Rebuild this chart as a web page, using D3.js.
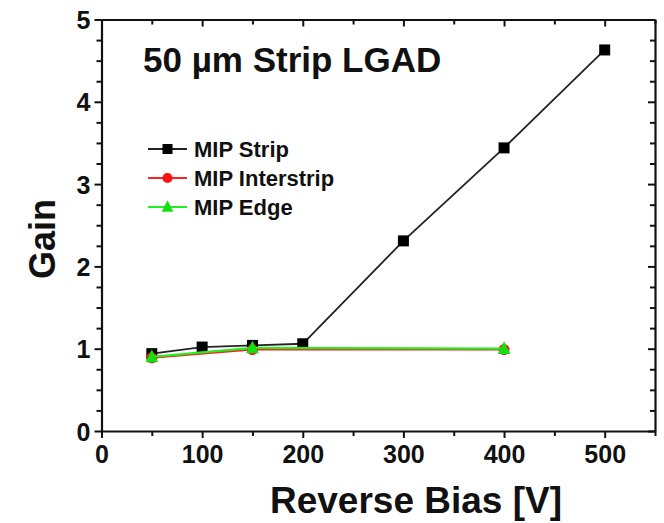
<!DOCTYPE html>
<html>
<head>
<meta charset="utf-8">
<script src="https://cdnjs.cloudflare.com/ajax/libs/d3/7.8.5/d3.min.js"></script>
<style>
  body { margin: 0; background: #fff; }
  svg { display: block; font-family: "Liberation Sans", Arial, sans-serif; font-weight: bold; }
  .axis path, .axis line { stroke: #111; }
  .axis text { font-size: 25px; font-weight: bold; fill: #111; font-family: "Liberation Sans", Arial, sans-serif; }
</style>
</head>
<body>
<div id="chart"></div>
<script>
const stripBias = [50, 100, 150, 200, 300, 400, 500];
const stripGain = [0.94, 1.02, 1.04, 1.06, 2.31, 3.44, 4.63];
const interBias = [50, 150, 400];
const interGain = [0.89, 0.99, 0.99];
const edgeBias = [50, 150, 400];
const edgeGain = [0.90, 1.01, 1.00];
const xTicks = [0, 100, 200, 300, 400, 500];
const yTicks = [0, 1, 2, 3, 4, 5];
const seriesNames = ["MIP Strip", "MIP Interstrip", "MIP Edge"];

const W = 664, H = 523;
const margin = {top: 19.5, right: 9, bottom: 92, left: 101.5};
const width = W - margin.left - margin.right,
      height = H - margin.top - margin.bottom;

const svg = d3.select("#chart").append("svg")
    .attr("width", W)
    .attr("height", H);

const g = svg.append("g")
    .attr("transform", `translate(${margin.left},${margin.top})`);

const x = d3.scaleLinear().domain([0, 550]).range([0, width]);
const y = d3.scaleLinear().domain([0, 5]).range([height, 0]);

const xMinor = d3.range(0, 551, 50).filter(v => v % 100 !== 0);
const yMinor = d3.range(0, 5.001, 0.25).filter(v => Math.abs(v - Math.round(v)) > 1e-6);

// minor ticks first, then the main axes
function minor(axis, vals, tx, ty) {
    g.append("g").attr("class", "axis")
        .attr("transform", `translate(${tx},${ty})`)
        .call(axis.tickValues(vals).tickFormat(""))
        .call(s => s.select(".domain").remove())
        .selectAll("line").attr("stroke-width", 2);
}
minor(d3.axisBottom(x).tickSize(5), xMinor, 0, height);
minor(d3.axisTop(x).tickSize(-5), xMinor, 0, 0);
minor(d3.axisLeft(y).tickSize(5), yMinor, 0, 0);
minor(d3.axisRight(y).tickSize(-5), yMinor, width, 0);

const xAxis = g.append("g").attr("class", "axis")
    .attr("transform", `translate(0,${height})`)
    .call(d3.axisBottom(x).tickValues(xTicks).tickFormat(d3.format("d"))
        .tickSize(7).tickSizeOuter(0).tickPadding(5));
g.append("g").attr("class", "axis")
    .call(d3.axisTop(x).tickValues(xTicks).tickSize(-7).tickSizeOuter(0).tickFormat(""));
const yAxis = g.append("g").attr("class", "axis")
    .call(d3.axisLeft(y).tickValues(yTicks).tickFormat(d3.format("d"))
        .tickSize(7).tickSizeOuter(0).tickPadding(4));
g.append("g").attr("class", "axis")
    .attr("transform", `translate(${width},0)`)
    .call(d3.axisRight(y).tickValues(yTicks).tickSize(-7).tickSizeOuter(0).tickFormat(""));

g.selectAll(".axis .domain").attr("stroke-width", 2.2);
g.selectAll(".axis .tick line").attr("stroke-width", 2);
yAxis.selectAll("text").attr("dy", "0.36em");
xAxis.selectAll("text").attr("dy", "0.78em");

// series
const series = [
    {name: seriesNames[0], bias: stripBias, gain: stripGain, color: "#222", fill: "#000", marker: "square"},
    {name: seriesNames[1], bias: interBias, gain: interGain, color: "#ff2020", fill: "#ff1010", marker: "circle"},
    {name: seriesNames[2], bias: edgeBias, gain: edgeGain, color: "#22ee22", fill: "#11e011", marker: "triangle"}
];

const line = d3.line().x(d => x(d[0])).y(d => y(d[1]));

function drawMarker(sel, kind, color, size) {
    if (kind === "square") {
        sel.append("rect")
            .attr("x", -size / 2).attr("y", -size / 2)
            .attr("width", size).attr("height", size)
            .attr("fill", color);
    } else if (kind === "circle") {
        sel.append("circle").attr("r", size / 2).attr("fill", color);
    } else {
        const s = size * 1.15;
        sel.append("path")
            .attr("d", `M0,${-s * 0.58}L${s / 2},${s * 0.42}L${-s / 2},${s * 0.42}Z`)
            .attr("fill", color);
    }
}

series.forEach(s => {
    const pts = s.bias.map((b, i) => [b, s.gain[i]]);
    g.append("path")
        .datum(pts)
        .attr("fill", "none")
        .attr("stroke", s.color)
        .attr("stroke-width", s.marker === "square" ? 1.8 : 2.2)
        .attr("d", line);
    pts.forEach(p => {
        const m = g.append("g").attr("transform", `translate(${x(p[0])},${y(p[1])})`);
        drawMarker(m, s.marker, s.fill, 11);
    });
});

// legend
const legend = svg.append("g").attr("transform", "translate(148,149)");
series.forEach((s, i) => {
    const row = legend.append("g").attr("transform", `translate(0,${i * 29})`);
    row.append("line")
        .attr("x1", 0).attr("x2", 39)
        .attr("stroke", s.color).attr("stroke-width", 2.2);
    const m = row.append("g").attr("transform", "translate(19.5,0)");
    drawMarker(m, s.marker, s.fill, 10);
    row.append("text")
        .attr("x", 46).attr("y", 0).attr("dy", "0.36em")
        .attr("font-size", 22)
        .attr("fill", "#111")
        .text(s.name);
});

// title and axis labels
svg.append("text")
    .attr("x", 143).attr("y", 72)
    .attr("font-size", 35)
    .attr("fill", "#111")
    .text("50 µm Strip LGAD");

svg.append("text")
    .attr("x", 416).attr("y", 513)
    .attr("text-anchor", "middle")
    .attr("font-size", 37)
    .attr("fill", "#111")
    .text("Reverse Bias [V]");

svg.append("text")
    .attr("transform", "translate(55,239) rotate(-90)")
    .attr("text-anchor", "middle")
    .attr("font-size", 36)
    .attr("fill", "#111")
    .text("Gain");
</script>
</body>
</html>
